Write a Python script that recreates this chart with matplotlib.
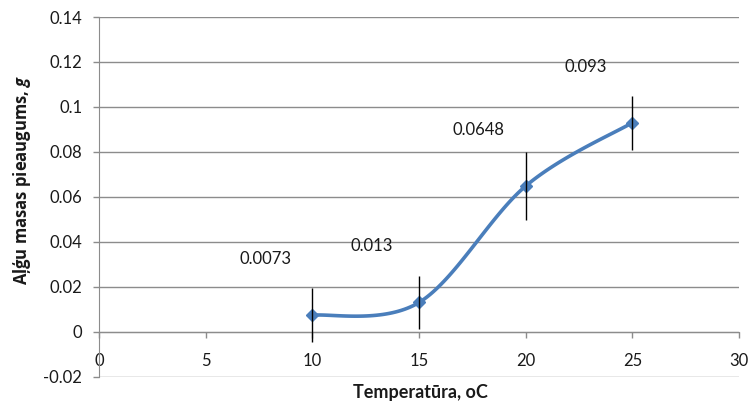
import numpy as np
import matplotlib
matplotlib.use("Agg")
import matplotlib.pyplot as plt

# Data
temperatures = [10, 15, 20, 25]
mass_gain = [0.0073, 0.013, 0.0648, 0.093]
errors = [0.012, 0.012, 0.015, 0.012]
value_labels = ["0.0073", "0.013", "0.0648", "0.093"]
x_ticks = [0, 5, 10, 15, 20, 25, 30]
y_ticks = [-0.02, 0, 0.02, 0.04, 0.06, 0.08, 0.1, 0.12, 0.14]
y_tick_labels = ["-0.02", "0", "0.02", "0.04", "0.06", "0.08", "0.1", "0.12", "0.14"]


def smooth_curve(xs, ys, steps=40):
    """Excel style smoothed line (Bezier segments, Catmull-Rom controls)"""
    pts = np.column_stack([xs, ys]).astype(float)
    padded = np.vstack([pts[0], pts, pts[-1]])
    out = []
    for i in range(1, len(padded) - 2):
        p0, p1, p2, p3 = padded[i - 1], padded[i], padded[i + 1], padded[i + 2]
        c1 = p1 + (p2 - p0) / 6.0
        c2 = p2 - (p3 - p1) / 6.0
        t = np.linspace(0, 1, steps)[:, None]
        seg = ((1 - t) ** 3) * p1 + 3 * ((1 - t) ** 2) * t * c1 \
            + 3 * (1 - t) * t ** 2 * c2 + t ** 3 * p2
        out.append(seg)
    curve = np.vstack(out)
    return curve[:, 0], curve[:, 1]


def create_chart():
    plt.rcParams['font.family'] = ['Lato', 'Open Sans', 'DejaVu Sans']
    plt.rcParams['mathtext.fontset'] = 'custom'
    plt.rcParams['mathtext.it'] = 'Open Sans:italic:bold'
    fig = plt.figure(figsize=(7.48, 4.05), dpi=100)
    ax = fig.add_axes([0.1324, 0.070, 0.8556, 0.888])

    blue = '#4A7EBB'
    grid_col = '#8C8C8C'
    text_col = '#1A1A1A'

    # gridlines
    for yv in y_ticks:
        ax.axhline(yv, color=grid_col, lw=1.0, zorder=0)

    # smoothed line + markers
    sx, sy = smooth_curve(temperatures, mass_gain)
    ax.plot(sx, sy, color=blue, lw=2.6, zorder=3, solid_capstyle='round')
    ax.plot(temperatures, mass_gain, linestyle='none', marker='D',
            markersize=6.5, color=blue, zorder=4)
    ax.errorbar(temperatures, mass_gain, yerr=errors, fmt='none',
                ecolor='black', elinewidth=1.0, capsize=0, zorder=5)

    # data labels
    for x, y, txt in zip(temperatures, mass_gain, value_labels):
        ax.annotate(txt, (x, y), xytext=(-47, 56), textcoords='offset pixels',
                    ha='center', va='center', fontsize=12, color=text_col)

    ax.set_xlim(0, 30)
    ax.set_ylim(-0.02, 0.14)
    ax.set_xticks(x_ticks)
    ax.set_yticks(y_ticks)
    ax.set_yticklabels(y_tick_labels)

    ax.spines['top'].set_visible(False)
    ax.spines['right'].set_visible(False)
    ax.spines['bottom'].set_position(('data', 0))
    ax.spines['left'].set_color(grid_col)
    ax.spines['bottom'].set_color(grid_col)

    ax.tick_params(axis='y', direction='out', length=4, width=1, color=grid_col,
                   pad=8, labelsize=12, labelcolor=text_col)
    ax.tick_params(axis='x', direction='out', length=4, width=1, color=grid_col,
                   pad=11, labelsize=12, labelcolor=text_col)

    fig.text(0.5615, 0.030, 'Temperatūra, oC', ha='center', va='center',
             fontsize=13, fontweight='bold', color=text_col)
    fig.text(0.030, 0.555, r'Aļģu masas pieaugums, $\it{g}$', ha='center',
             va='center', rotation=90, fontsize=12, fontweight='bold',
             color=text_col, family=['Open Sans', 'DejaVu Sans'])

    fig.savefig('out.png', dpi=100)
    plt.close(fig)


def main():
    create_chart()


if __name__ == "__main__":
    main()
